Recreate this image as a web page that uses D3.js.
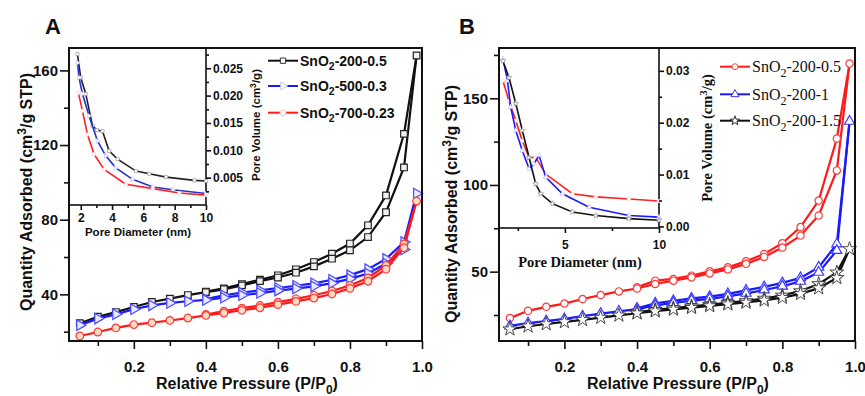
<!DOCTYPE html>
<html>
<head>
<meta charset="utf-8">
<script src="https://cdn.jsdelivr.net/npm/d3@7"></script>
<style>
  body { margin: 0; background: #fff; }
  svg { display: block; }
  .sans { font-family: "Liberation Sans", Arial, sans-serif; font-weight: bold; }
  .narrow { font-family: "Liberation Sans Narrow", "Arial Narrow", "Liberation Sans", sans-serif; font-weight: bold; }
  .serif { font-family: "Liberation Serif", "Times New Roman", serif; }
</style>
</head>
<body>
<svg id="chart" width="865" height="396"></svg>
<script>
// relative pressure points (adsorption branch, then desorption branch)
const pressure = [0.05, 0.10, 0.15, 0.20, 0.25, 0.30, 0.35, 0.40, 0.45, 0.50,
                  0.55, 0.60, 0.65, 0.70, 0.75, 0.80, 0.85, 0.90, 0.95, 0.985];
const desPressure = [0.985, 0.95, 0.90, 0.85, 0.80, 0.75, 0.70, 0.65, 0.60, 0.55, 0.50, 0.45, 0.40];

// panel A isotherms
const aLabels = ["SnO2-200-0.5", "SnO2-500-0.3", "SnO2-700-0.23"];
const a200Ads = [24.5, 28, 30.5, 33.2, 35.9, 37.7, 39.6, 41.2, 42.7, 44.8, 47.1, 49, 51.6, 55, 59.1, 63.6, 70.7, 84, 108, 168];
const a200Des = [168, 126, 93, 77, 67.2, 61.8, 57.3, 53.4, 50.2, 47.8, 45.5, 43.2, 41.5];
const a500Ads = [23.5, 27, 29.3, 32, 34.1, 35.4, 36.3, 37, 38.2, 39.5, 40.7, 42, 43.1, 44.3, 46, 48.3, 51.2, 56.5, 64, 94];
const a500Des = [94, 68, 59, 53.5, 50.3, 47.8, 45.9, 44.6, 43.4, 42.1, 40.9, 39.5, 37.5];
const a700Ads = [17.7, 19.8, 22, 23.8, 24.8, 26, 27.3, 28.7, 30, 31.5, 32.8, 34.5, 36.2, 38, 40.2, 43.2, 47, 53.5, 65, 90];
const a700Des = [90, 67, 55.5, 48.8, 44.8, 41.8, 39.5, 37.6, 35.8, 34, 32.6, 31, 29.2];

// panel A inset: pore size distribution
const a200Dia = [1.79, 2.0, 2.32, 2.75, 3.03, 3.39, 3.81, 4.35, 5.53, 6.38, 7.45, 9.26, 10];
const a200Vol = [0.0276, 0.0233, 0.0203, 0.0145, 0.0137, 0.0135, 0.0099, 0.0084, 0.0062, 0.0057, 0.0051, 0.0045, 0.0044];
const a500Dia = [1.8, 1.89, 2.11, 2.53, 3.07, 3.6, 4.24, 5.31, 6.6, 7.88, 10];
const a500Vol = [0.026, 0.0233, 0.0203, 0.0163, 0.0117, 0.009, 0.0068, 0.0047, 0.0033, 0.0028, 0.0021];
const a700Dia = [1.85, 2.11, 2.43, 2.85, 3.49, 4.88, 6.6, 8.3, 10];
const a700Vol = [0.0205, 0.0172, 0.0129, 0.0093, 0.0065, 0.0038, 0.003, 0.0022, 0.0018];

// panel B isotherms
const bLabels = ["SnO2-200-0.5", "SnO2-200-1", "SnO2-200-1.5"];
const b05Ads = [23.2, 27.4, 29.7, 31.6, 34.2, 36.5, 38.6, 40.3, 42.9, 44.8, 46.7, 49, 51.3, 54.5, 58.5, 63.9, 70.8, 82.4, 108.4, 170];
const b05Des = [170, 126.8, 91, 75.7, 66.4, 60.2, 56, 52.5, 50.2, 47.7, 45.8, 44.8, 41];
const b1Ads = [18.7, 20.3, 21.5, 22.8, 24.3, 25.8, 27.1, 28.4, 30.5, 32, 33.3, 34.3, 35.7, 37.5, 39.4, 41.6, 44.4, 49.6, 62.2, 136.7];
const b1Des = [136.7, 66, 52.5, 46.4, 43.5, 41.2, 39.2, 37.2, 35.6, 34.6, 33.2, 31.8, 28.8];
const b15Ads = [16.8, 18.5, 19.8, 21, 22.2, 23.5, 24.8, 26, 27.2, 28.2, 29.2, 30.2, 31.2, 32.2, 33.4, 35, 37.2, 40.5, 46.4, 63.1];
const b15Des = [63.1, 49.6, 42.9, 38.8, 36.3, 34.5, 33.1, 32, 31, 30, 29, 28, 26.5];

// panel B inset
const b05Dia = [1.71, 2.03, 2.39, 2.74, 3.1, 3.45, 3.98, 5.4, 6.64, 8.4, 10];
const b05Vol = [0.0281, 0.0242, 0.0204, 0.0165, 0.0133, 0.0133, 0.0101, 0.0063, 0.0057, 0.0053, 0.0049];
const b1Dia = [1.71, 1.95, 2.12, 2.39, 2.74, 3.1, 3.36, 3.63, 3.98, 4.87, 6.29, 8.4, 10];
const b1Vol = [0.0323, 0.0281, 0.023, 0.0185, 0.0146, 0.0111, 0.0121, 0.0137, 0.0095, 0.0063, 0.0037, 0.0021, 0.0018];
const b15Dia = [1.71, 2.03, 2.39, 2.74, 3.1, 3.45, 3.72, 4.34, 5.4, 6.64, 8.4, 10];
const b15Vol = [0.0319, 0.0287, 0.0237, 0.0185, 0.0133, 0.0082, 0.0063, 0.0044, 0.0028, 0.0021, 0.0015, 0.0012];

// tick values
const xMajor = [0.2, 0.4, 0.6, 0.8, 1.0];
const xMinor = [0.1, 0.3, 0.5, 0.7, 0.9];
const aYMajor = [40, 80, 120, 160];
const aYMinor = [20, 60, 100, 140];
const bYMajor = [50, 100, 150];
const bYMinor = [25, 75, 125, 175];
const aInsetX = [2, 4, 6, 8, 10];
const aInsetXMinor = [3, 5, 7, 9];
const aInsetY = [0.005, 0.010, 0.015, 0.020, 0.025];
const aInsetYMinor = [0.0025, 0.0075, 0.0125, 0.0175, 0.0225, 0.0275];
const bInsetX = [5, 10];
const bInsetXMinor = [2.5, 7.5];
const bInsetY = [0.00, 0.01, 0.02, 0.03];
const bInsetYMinor = [0.005, 0.015, 0.025];

const svg = d3.select("#chart");

const zip = (xs, ys) => xs.map((x, i) => [x, ys[i]]);

function axis(g, gen, ticks, size, pad, fmt, cls, fontSize) {
  g.call(gen.tickValues(ticks).tickSize(size).tickSizeOuter(0).tickPadding(pad)
    .tickFormat(fmt === null ? "" : fmt));
  g.select(".domain").remove();
  g.selectAll("line").attr("stroke", "#111").attr("stroke-width", 1.6);
  g.selectAll("text").attr("class", cls).attr("font-size", fontSize).attr("fill", "#111");
}

function addSub(textSel, base, sub, rest, size) {
  textSel.append("tspan").text(base);
  textSel.append("tspan").attr("dy", size * 0.3).attr("font-size", size * 0.75).text(sub);
  textSel.append("tspan").attr("dy", -size * 0.3).text(rest);
}

function symbolPath(kind, size) {
  const t = { square: d3.symbolSquare, tri: d3.symbolTriangle, circle: d3.symbolCircle, star: d3.symbolStar }[kind];
  return d3.symbol().type(t).size(size)();
}

function drawSeries(g, x, y, ads, des, st) {
  const line = d3.line().x(d => x(d[0])).y(d => y(d[1]));
  const adsPts = zip(pressure, ads);
  const desPts = zip(desPressure, des);
  [desPts, adsPts].forEach(pts => {
    g.append("path").attr("d", line(pts)).attr("fill", "none")
      .attr("stroke", st.line).attr("stroke-width", 2.2);
  });
  [desPts, adsPts.slice(0, adsPts.length - 1)].forEach(pts => {
    g.selectAll(null).data(pts).enter().append("path")
      .attr("d", symbolPath(st.sym, st.size))
      .attr("transform", d => `translate(${x(d[0])},${y(d[1])}) rotate(${st.rot || 0})`)
      .attr("fill", st.fill).attr("stroke", st.mark).attr("stroke-width", st.sw || 1.2);
  });
}

function drawInsetSeries(g, x, y, dia, vol, st) {
  const line = d3.line().x(d => x(d[0])).y(d => y(d[1]));
  const pts = zip(dia, vol);
  g.append("path").attr("d", line(pts)).attr("fill", "none")
    .attr("stroke", st.line).attr("stroke-width", 1.6);
  g.selectAll(null).data(pts).enter().append("path")
    .attr("d", symbolPath(st.sym, 10))
    .attr("transform", d => `translate(${x(d[0])},${y(d[1])}) rotate(${st.rot || 0})`)
    .attr("fill", "#fff").attr("stroke", st.faint).attr("stroke-width", 0.7);
}

function drawPanel(p) {
  const x = d3.scaleLinear().domain([0.02, 1.0]).range([p.left, p.right]);
  const y = d3.scaleLinear().domain(p.yDomain).range([341, 48]);

  const tickFmt = d3.format(".1f");
  axis(svg.append("g").attr("transform", "translate(0,341)"), d3.axisBottom(x), xMinor, 5, 0, null, "sans", 15);
  axis(svg.append("g").attr("transform", "translate(0,341)"), d3.axisBottom(x), xMajor, 8, 12, tickFmt, "sans", 15);
  axis(svg.append("g").attr("transform", `translate(${p.left},0)`), d3.axisLeft(y), p.yMinor, 5, 0, null, "sans", 15);
  axis(svg.append("g").attr("transform", `translate(${p.left},0)`), d3.axisLeft(y), p.yMajor, 9, 2, d3.format("d"), "sans", 15);

  const data = svg.append("g");
  p.series.forEach(s => drawSeries(data, x, y, s.ads, s.des, s.style));

  // inset
  const ix = d3.scaleLinear().domain(p.inset.xDomain).range([p.left, p.inset.right]);
  const iy = d3.scaleLinear().domain(p.inset.yDomain).range([p.inset.bottom, 48]);
  svg.append("rect").attr("x", p.left).attr("y", 48)
    .attr("width", p.inset.right - p.left).attr("height", p.inset.bottom - 48)
    .attr("fill", "#fff").attr("stroke", "#111").attr("stroke-width", 1.6);
  const ig = svg.append("g");
  p.inset.series.forEach(s => drawInsetSeries(ig, ix, iy, s.dia, s.vol, s.style));

  const ic = p.inset.tickClass, fs = p.inset.tickFont;
  axis(svg.append("g").attr("transform", `translate(0,${p.inset.bottom})`), d3.axisBottom(ix), p.inset.xMinor, 3, 0, null, ic, fs);
  axis(svg.append("g").attr("transform", `translate(0,${p.inset.bottom})`), d3.axisBottom(ix), p.inset.xMajor, 5, p.inset.xPad, d3.format("d"), ic, fs);
  axis(svg.append("g").attr("transform", `translate(${p.inset.right},0)`), d3.axisRight(iy), p.inset.yMinor, 3, 0, null, ic, fs);
  axis(svg.append("g").attr("transform", `translate(${p.inset.right},0)`), d3.axisRight(iy), p.inset.yMajor, 5, 2, d3.format(p.inset.yFmt), ic, fs);

  // frame
  svg.append("rect").attr("x", p.left).attr("y", 48)
    .attr("width", p.right - p.left).attr("height", 341 - 48)
    .attr("fill", "none").attr("stroke", "#111").attr("stroke-width", 2);

  // inset axis titles
  const it = p.inset.titles;
  svg.append("text").attr("class", it.cls).attr("font-size", it.size).attr("fill", "#111")
    .attr("x", it.xx).attr("y", it.xy).attr("text-anchor", "middle").text("Pore Diameter (nm)");
  const yl = svg.append("text").attr("class", it.cls).attr("font-size", it.size).attr("fill", "#111")
    .attr("text-anchor", "middle").attr("transform", `translate(${it.yx},${it.yy}) rotate(-90)`);
  yl.append("tspan").text("Pore Volume (cm");
  yl.append("tspan").attr("dy", -it.size * 0.35).attr("font-size", it.size * 0.75).text("3");
  yl.append("tspan").attr("dy", it.size * 0.35).text("/g)");

  // legend
  const lg = p.legend;
  p.series.forEach((s, i) => {
    const cy = lg.y[i];
    svg.append("line").attr("x1", lg.x0).attr("x2", lg.x1).attr("y1", cy).attr("y2", cy)
      .attr("stroke", s.style.line).attr("stroke-width", 2);
    svg.append("path").attr("d", symbolPath(s.style.sym, 28))
      .attr("transform", `translate(${(lg.x0 + lg.x1) / 2},${cy}) rotate(${s.style.rot || 0})`)
      .attr("fill", "#fff").attr("stroke", s.style.legendMark).attr("stroke-width", 1);
    const t = svg.append("text").attr("class", lg.cls).attr("font-size", lg.size).attr("fill", "#111")
      .attr("x", lg.tx).attr("y", cy + lg.size * 0.35);
    const lab = p.labels[i];
    addSub(t, "SnO", "2", lab.slice(4), lg.size);
  });

  // main titles
  svg.append("text").attr("class", "sans").attr("font-size", 22).attr("fill", "#111")
    .attr("x", p.tag.x).attr("y", 34).text(p.tag.t);
  const xl = svg.append("text").attr("class", "sans").attr("font-size", 16).attr("fill", "#111")
    .attr("x", p.xLabelX).attr("y", 389).attr("text-anchor", "middle");
  addSub(xl, "Relative Pressure (P/P", "0", ")", 16);
  const yt = svg.append("text").attr("class", "sans").attr("font-size", 16).attr("fill", "#111")
    .attr("text-anchor", "middle").attr("transform", `translate(${p.yLabelX},${p.yLabelY}) rotate(-90)`);
  yt.append("tspan").text("Quantity Adsorbed (cm");
  yt.append("tspan").attr("dy", -6).attr("font-size", 12).text("3");
  yt.append("tspan").attr("dy", 6).text("/g STP)");
}

const aBlack = { line: "#111", mark: "#222", fill: "#f0f0f0", sym: "square", size: 44, legendMark: "#333", faint: "#999" };
const aBlue = { line: "#1a1aff", mark: "#4a4aff", fill: "#e8e8ff", sym: "tri", rot: 90, size: 48, legendMark: "#c8c8ff", faint: "#aab" };
const aRed = { line: "#ff1a1a", mark: "#ff3a3a", fill: "#ffdcc4", sym: "circle", size: 46, legendMark: "#ffc0c0", faint: "#fbb" };

drawPanel({
  left: 69, right: 422, yDomain: [15, 172], yMajor: aYMajor, yMinor: aYMinor,
  labels: aLabels,
  series: [
    { ads: a200Ads, des: a200Des, style: aBlack },
    { ads: a500Ads, des: a500Des, style: aBlue },
    { ads: a700Ads, des: a700Des, style: aRed }
  ],
  inset: {
    right: 206, bottom: 205, xDomain: [1.25, 10], yDomain: [0, 0.0287],
    xMajor: aInsetX, xMinor: aInsetXMinor, yMajor: aInsetY, yMinor: aInsetYMinor,
    yFmt: ".3f", xPad: 3, tickClass: "narrow", tickFont: 12,
    series: [
      { dia: a200Dia, vol: a200Vol, style: { line: "#222", sym: "square", faint: "#999" } },
      { dia: a500Dia, vol: a500Vol, style: { line: "#2233cc", sym: "tri", rot: 90, faint: "#bbf" } },
      { dia: a700Dia, vol: a700Vol, style: { line: "#ff2222", sym: "circle", faint: "#fcc" } }
    ],
    titles: { cls: "narrow", size: 11.5, xx: 138, xy: 236, yx: 260, yy: 125 }
  },
  legend: { x0: 268, x1: 298, tx: 300, y: [60.7, 86, 112.7], cls: "sans", size: 14 },
  tag: { x: 45, t: "A" },
  xLabelX: 247, yLabelX: 32, yLabelY: 192
});

const bRed = { line: "#ff1a1a", mark: "#ff3a3a", fill: "#fff", sym: "circle", size: 42, legendMark: "#ff4a4a", faint: "#fbb" };
const bBlue = { line: "#1a1aff", mark: "#3a3aff", fill: "#fff", sym: "tri", size: 44, legendMark: "#3a3aff", faint: "#bbf" };
const bBlack = { line: "#111", mark: "#333", fill: "#fff", sym: "star", size: 60, sw: 0.9, legendMark: "#333", faint: "#999" };

drawPanel({
  left: 499, right: 855, yDomain: [10, 179], yMajor: bYMajor, yMinor: bYMinor,
  labels: bLabels,
  series: [
    { ads: b05Ads, des: b05Des, style: bRed },
    { ads: b1Ads, des: b1Des, style: bBlue },
    { ads: b15Ads, des: b15Des, style: bBlack }
  ],
  inset: {
    right: 659, bottom: 228, xDomain: [1.5, 10], yDomain: [-0.0003, 0.0344],
    xMajor: bInsetX, xMinor: bInsetXMinor, yMajor: bInsetY, yMinor: bInsetYMinor,
    yFmt: ".2f", xPad: 7, tickClass: "sans", tickFont: 12,
    series: [
      { dia: b05Dia, vol: b05Vol, style: { line: "#ff2222", sym: "circle", faint: "#fcc" } },
      { dia: b1Dia, vol: b1Vol, style: { line: "#1a1aff", sym: "tri", faint: "#bbf" } },
      { dia: b15Dia, vol: b15Vol, style: { line: "#111", sym: "star", faint: "#999" } }
    ],
    titles: { cls: "serif bold", size: 14.5, xx: 580, xy: 267, yx: 712, yy: 138 }
  },
  legend: { x0: 720, x1: 750, tx: 752, y: [66.7, 94.3, 120.7], cls: "serif", size: 16 },
  tag: { x: 459, t: "B" },
  xLabelX: 678, yLabelX: 457, yLabelY: 204
});
svg.selectAll(".bold").attr("font-weight", "bold");
</script>
</body>
</html>
